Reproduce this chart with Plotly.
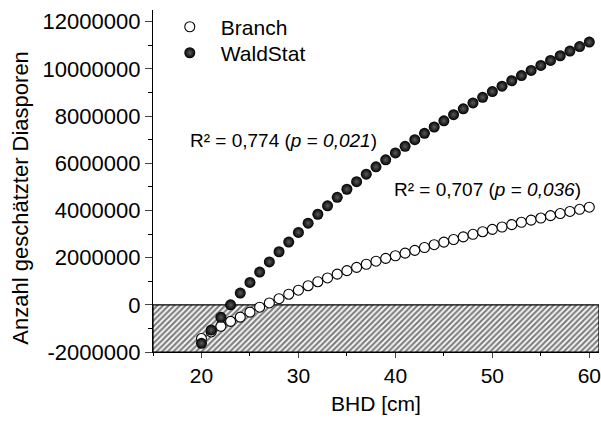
import plotly.graph_objects as go

# ---- data ----
bhd = list(range(20, 61))
branch = [-1.43, -1.15, -0.91, -0.70, -0.52, -0.31, -0.10, 0.08, 0.26, 0.45,
          0.62, 0.81, 0.98, 1.14, 1.30, 1.45, 1.59, 1.72, 1.85, 1.97,
          2.08, 2.19, 2.31, 2.43, 2.55, 2.66, 2.77, 2.88, 2.99, 3.10,
          3.20, 3.30, 3.40, 3.50, 3.59, 3.68, 3.78, 3.87, 3.96, 4.05, 4.14]
waldstat = [-1.63, -1.07, -0.53, 0.00, 0.50, 0.95, 1.39, 1.82, 2.25, 2.66,
            3.07, 3.46, 3.84, 4.20, 4.56, 4.90, 5.22, 5.54, 5.85, 6.15,
            6.44, 6.72, 7.00, 7.27, 7.54, 7.80, 8.06, 8.31, 8.56, 8.80,
            9.04, 9.27, 9.50, 9.72, 9.94, 10.15, 10.36, 10.56, 10.76, 10.95, 11.14]
branch = [v * 1e6 for v in branch]
waldstat = [v * 1e6 for v in waldstat]

x_range = [15, 61]
y_range = [-2000000, 12500000]
x_tick_vals = [20, 30, 40, 50, 60]
y_tick_vals = [-2000000, 0, 2000000, 4000000, 6000000, 8000000, 10000000, 12000000]
y_tick_text = ["-2000000", "0", "2000000", "4000000", "6000000", "8000000", "10000000", "12000000"]
zone_top = 0  # negative zone shaded

FONT = "Liberation Sans, Arial, sans-serif"

fig = go.Figure()

# hatched negative zone
fig.add_trace(go.Scatter(
    x=[x_range[0], x_range[1], x_range[1], x_range[0], x_range[0]],
    y=[y_range[0], y_range[0], zone_top, zone_top, y_range[0]],
    mode="lines", fill="toself",
    line=dict(color="black", width=1.2),
    fillcolor="white",
    fillpattern=dict(shape="/", size=4, solidity=0.55, fgcolor="#000", bgcolor="white"),
    showlegend=False, hoverinfo="skip", cliponaxis=False,
))

fig.add_trace(go.Scatter(
    x=bhd, y=branch, mode="markers", name="Branch", legend="legend",
    marker=dict(symbol="circle", size=10, color="white",
                line=dict(color="black", width=1.1)),
))
fig.add_trace(go.Scatter(
    x=bhd, y=waldstat, mode="markers", name="WaldStat", legend="legend2",
    marker=dict(symbol="circle", size=11, color="#000000",
                gradient=dict(type="radial", color="#5c5c5c"),
                line=dict(width=0)),
))

leg_common = dict(xanchor="left", yanchor="middle", bgcolor="rgba(0,0,0,0)",
                  font=dict(size=21, family=FONT), itemwidth=52)

fig.update_layout(
    width=601, height=423,
    margin=dict(l=153, r=0, t=10, b=71),
    paper_bgcolor="white", plot_bgcolor="white",
    font=dict(family=FONT, size=21, color="black"),
    showlegend=True,
    legend=dict(x=0.013, y=0.950, **leg_common),
    legend2=dict(x=0.013, y=0.874, **leg_common),
    xaxis=dict(range=x_range, tickvals=x_tick_vals, ticks="outside", ticklen=5,
               tickwidth=1.2, showline=True, linecolor="black", linewidth=1.2,
               showgrid=False, zeroline=False, tickfont=dict(size=21),
               ticklabeloverflow="allow",
               minor=dict(dtick=5, ticks="outside", ticklen=3, tickwidth=1.2, tickcolor="black", showgrid=False),
               title=dict(text="BHD [cm]", font=dict(size=21), standoff=10)),
    yaxis=dict(range=y_range, tickvals=y_tick_vals, ticktext=y_tick_text, ticks="outside",
               ticklen=7, tickwidth=1.2, showline=True, linecolor="black", linewidth=1.2,
               showgrid=False, zeroline=False, tickfont=dict(size=22),
               minor=dict(dtick=1000000, ticks="outside", ticklen=4, tickwidth=1.2, tickcolor="black", showgrid=False)),
    annotations=[
        dict(text="Anzahl geschätzter Diasporen", textangle=-90, xref="paper", yref="paper",
             x=-0.297, y=0.45, xanchor="center", yanchor="middle", showarrow=False,
             font=dict(size=22, family=FONT)),
        dict(text="R² = 0,774 (<i>p</i> = <i>0,021</i>)", xref="paper", yref="paper",
             x=0.078, y=0.618, xanchor="left", yanchor="middle", showarrow=False,
             font=dict(size=19, family=FONT)),
        dict(text="R² = 0,707 (<i>p</i> = <i>0,036</i>)", xref="paper", yref="paper",
             x=0.5355, y=0.4766, xanchor="left", yanchor="middle", showarrow=False,
             font=dict(size=19, family=FONT)),
    ],
)

fig.write_html("out.html")
